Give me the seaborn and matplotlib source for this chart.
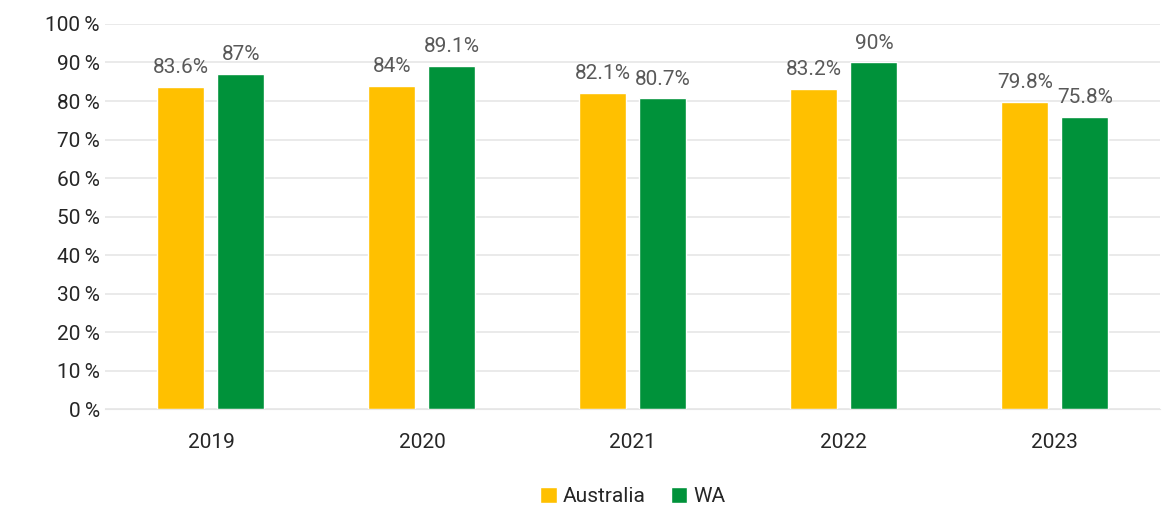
import pandas as pd
import seaborn as sns
import matplotlib.pyplot as plt
from matplotlib.ticker import FuncFormatter

# Données du graphique
years = ['2019', '2020', '2021', '2022', '2023']
australia = [83.6, 84.0, 82.1, 83.2, 79.8]
wa = [87.0, 89.1, 80.7, 90.0, 75.8]
series = ['Australia', 'WA']
colors = ['#FFC000', '#00923A']

df = pd.DataFrame({
    'year': years * 2,
    'value': australia + wa,
    'series': ['Australia'] * len(years) + ['WA'] * len(years),
})

sns.set_style('white')
plt.rcParams['font.family'] = ['Roboto', 'DejaVu Sans']

fig = plt.figure(figsize=(11.63, 5.05), dpi=100)
ax = fig.add_axes([0.0907, 0.190, 0.907, 0.7625])

sns.barplot(data=df, x='year', y='value', hue='series', hue_order=series,
            palette=colors, width=0.569, gap=0.217, saturation=1, ax=ax,
            legend=True)

# Étiquettes au-dessus des barres
for cont in ax.containers:
    labels = [f'{v:g}%' for v in cont.datavalues]
    ax.bar_label(cont, labels=labels, padding=7, fontsize=15, color='#595959')

ax.set_ylim(0, 100)
ax.set_yticks(range(0, 101, 10))
ax.yaxis.set_major_formatter(FuncFormatter(lambda v, p: f'{v:.0f}\u2009%'))
ax.yaxis.grid(True, color='#E6E6E6', linewidth=1.2)
ax.set_axisbelow(True)
ax.set_xlim(-0.5, 4.5)
for s in ['top', 'right', 'left']:
    ax.spines[s].set_visible(False)
ax.spines['bottom'].set_color('#E6E6E6')
ax.set_xlabel('')
ax.set_ylabel('')
ax.tick_params(axis='both', length=0, labelsize=15, colors='#262626')
ax.tick_params(axis='x', pad=17)
ax.tick_params(axis='y', pad=4)

ax.legend(loc='lower center', bbox_to_anchor=(0.5, -0.30), ncol=2, frameon=False,
          fontsize=15, handlelength=0.8, handleheight=0.8, handletextpad=0.3,
          columnspacing=1.2)

plt.savefig('out.png', dpi=100)
plt.close()
